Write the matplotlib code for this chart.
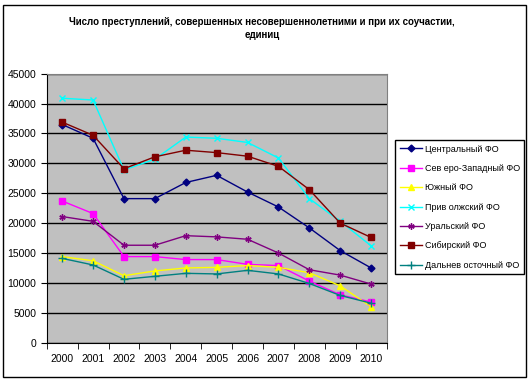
import matplotlib.pyplot as plt
from matplotlib.patches import Rectangle

plt.rcParams['font.family'] = ['Liberation Sans', 'DejaVu Sans']

years = ['2000', '2001', '2002', '2003', '2004', '2005', '2006', '2007', '2008', '2009', '2010']

central = [36500, 34200, 24100, 24100, 26800, 28000, 25200, 22700, 19200, 15400, 12500]
northwest = [23700, 21600, 14400, 14400, 13900, 13900, 13100, 12900, 10300, 8000, 6800]
south = [14400, 13700, 11200, 12000, 12500, 12600, 12900, 12600, 11700, 9500, 6000]
volga = [40900, 40600, 28900, 30700, 34400, 34200, 33500, 30900, 24100, 20300, 16200]
ural = [21100, 20300, 16300, 16300, 17900, 17700, 17300, 15000, 12200, 11300, 9800]
siberia = [36900, 34700, 29100, 31100, 32200, 31800, 31200, 29500, 25600, 20000, 17600]
fareast = [14100, 13000, 10600, 11100, 11600, 11500, 12100, 11500, 9900, 7900, 6600]

names = ['Центральный ФО', 'Сев еро-Западный ФО', 'Южный ФО', 'Прив олжский ФО',
         'Уральский ФО', 'Сибирский ФО', 'Дальнев осточный ФО']
series = [central, northwest, south, volga, ural, siberia, fareast]
colors = ['#000080', '#ff00ff', '#ffff00', '#00ffff', '#800080', '#800000', '#008080']
markers = ['D', 's', '^', 'x', (6, 2, 0), 's', '+']
msizes = [3.5, 5, 5, 4.5, 4.5, 5, 5.5]

fig = plt.figure(figsize=(5.31, 3.82), dpi=100)
fig.patches.append(Rectangle((3 / 531, 1 - 377 / 382), 523 / 531, 372 / 382,
                             transform=fig.transFigure, fill=False,
                             edgecolor='black', linewidth=1))

ax = fig.add_axes([0.088, 0.103, 0.640, 0.704])
ax.set_facecolor('#c0c0c0')

x = range(len(years))
for vals, name, c, m, ms in zip(series, names, colors, markers, msizes):
    ax.plot(x, vals, color=c, marker=m, markersize=ms, linewidth=1,
            markeredgewidth=1, label=name)

ax.set_xlim(-0.5, len(years) - 0.5)
ax.set_ylim(0, 45000)
ax.set_yticks(range(0, 45001, 5000))
ax.set_xticks(x)
ax.set_xticklabels(years)
ax.set_xticks([i - 0.5 for i in range(len(years) + 1)], minor=True)
ax.tick_params(axis='x', which='major', length=0, pad=8, labelsize=7.5)
ax.tick_params(axis='x', which='minor', length=4, direction='out')
ax.tick_params(axis='y', length=4, labelsize=7.5)
ax.yaxis.grid(True, color='black', linewidth=1)
ax.set_axisbelow(True)
for s in ['top', 'right']:
    ax.spines[s].set_color('#808080')
for s in ['left', 'bottom']:
    ax.spines[s].set_color('black')

fig.text(0.493, 0.926, 'Число преступлений, совершенных несовершеннолетними и при их соучастии,\nединиц',
         ha='center', va='center', fontsize=7, fontweight='bold', linespacing=1.35)

leg = fig.legend(loc='upper left', bbox_to_anchor=(395 / 531, 1 - 140 / 382),
                 frameon=True, fancybox=False, fontsize=6.5, handlelength=2.5,
                 labelspacing=1.15, borderpad=0.5, borderaxespad=0,
                 handletextpad=0.3)
leg.get_frame().set_edgecolor('black')
leg.get_frame().set_linewidth(1)
leg.get_frame().set_alpha(1)

fig.savefig('out.png', dpi=100)
